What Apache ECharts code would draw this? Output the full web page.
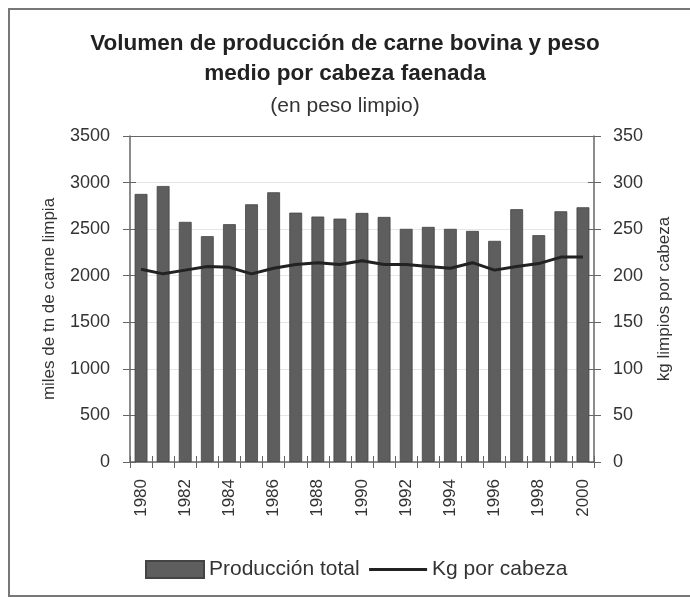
<!DOCTYPE html>
<html><head><meta charset="utf-8">
<script src="https://cdn.jsdelivr.net/npm/echarts@6/dist/echarts.min.js"></script>
<style>html,body{margin:0;padding:0;background:#fff}#c{width:690px;height:598px}</style>
</head><body><div id="c"></div>
<script>
const years = ['1980','1981','1982','1983','1984','1985','1986','1987','1988','1989','1990','1991','1992','1993','1994','1995','1996','1997','1998','1999','2000'];
const produccion = [2878,2963,2578,2424,2553,2767,2896,2677,2635,2613,2674,2631,2503,2524,2503,2481,2374,2714,2435,2692,2735];
const kgCabeza = [207,202,206,210,209,202,208,212,214,212,216,212,212,210,208,214,206,210,213,220,220];
const leftTicks = {min:0, max:3500, interval:500};
const rightTicks = {min:0, max:350, interval:50};

const FONT = '"Liberation Sans", Arial, sans-serif';
const txt = '#333';
const axisCol = '#666';
const plain = v => String(v);
const clear = 'rgba(0,0,0,0)';
const chart = echarts.init(document.getElementById('c'), null, {renderer:'canvas'});
chart.setOption({
  animation:false,
  textStyle:{fontFamily:FONT},
  title:[
    {text:'Volumen de producción de carne bovina y peso\nmedio por cabeza faenada', left:'center', top:24,
     padding:[5,0,5,22],
     textStyle:{fontFamily:FONT, fontSize:22.5, fontWeight:'bold', color:'#222', lineHeight:30}},
    {text:'(en peso limpio)', left:'center', top:90, padding:[5,0,5,22],
     textStyle:{fontFamily:FONT, fontSize:21, fontWeight:'normal', color:'#333', lineHeight:22}}
  ],
  graphic:[{type:'polyline', shape:{points:[[700,9],[9,9],[9,596],[700,596]]}, style:{stroke:'#777', lineWidth:2, fill:null}, silent:true}],
  legend:{left:140, top:554, itemWidth:58, itemHeight:17, itemGap:8,
    textStyle:{fontFamily:FONT, fontSize:21, color:'#333'},
    data:[{name:'Producción total', icon:'rect'},
          {name:'Kg por cabeza', itemStyle:{color:clear, borderColor:clear, borderWidth:0},
           lineStyle:{color:'#222', width:3}}]},
  grid:{left:130, right:96, top:136, bottom:136, containLabel:false},
  xAxis:[
    {type:'category', data:years, position:'bottom',
     axisLine:{lineStyle:{color:axisCol, width:1.5}},
     axisTick:{show:true, interval:0, length:6, lineStyle:{color:axisCol}},
     axisLabel:{interval:1, rotate:90, fontSize:17, color:txt, margin:17, fontFamily:FONT},
     splitLine:{show:false}},
    {type:'category', data:years, position:'bottom', gridIndex:0,
     axisLine:{show:false},
     axisTick:{show:true, inside:true, interval:0, length:6, lineStyle:{color:axisCol}},
     axisLabel:{show:false}, splitLine:{show:false}}
  ],
  yAxis:[
    {type:'value', position:'left', ...leftTicks,
     name:'miles de tn de carne limpia', nameLocation:'middle', nameRotate:90, nameGap:72,
     nameTextStyle:{fontSize:17, color:txt, fontFamily:FONT},
     axisLine:{show:true, lineStyle:{color:axisCol, width:1.5}},
     axisTick:{show:true, length:7, lineStyle:{color:axisCol}},
     axisLabel:{fontSize:18, color:txt, margin:20, fontFamily:FONT, formatter:plain},
     splitLine:{show:true, lineStyle:{color:'#e6e6e6'}}},
    {type:'value', position:'right', ...rightTicks,
     name:'kg limpios por cabeza', nameLocation:'middle', nameRotate:90, nameGap:62,
     nameTextStyle:{fontSize:17, color:txt, fontFamily:FONT},
     axisLine:{show:true, lineStyle:{color:axisCol, width:1.5}},
     axisTick:{show:true, length:7, lineStyle:{color:axisCol}},
     axisLabel:{fontSize:18, color:txt, margin:19, fontFamily:FONT, formatter:plain},
     splitLine:{show:false}},
    {type:'value', position:'left', ...leftTicks,
     axisLine:{show:false}, axisTick:{show:true, inside:true, length:6, lineStyle:{color:axisCol}},
     axisLabel:{show:false}, splitLine:{show:false}},
    {type:'value', position:'right', ...rightTicks,
     axisLine:{show:false}, axisTick:{show:true, inside:true, length:6, lineStyle:{color:axisCol}},
     axisLabel:{show:false}, splitLine:{show:false}}
  ],
  series:[
    {name:'Producción total', type:'bar', xAxisIndex:0, yAxisIndex:0, data:produccion,
     barCategoryGap:'42%', itemStyle:{color:'#5e5e5e', borderColor:'#444', borderWidth:0.8},
     markLine:{silent:true, symbol:'none', label:{show:false},
       lineStyle:{color:axisCol, type:'solid', width:1.2}, data:[{yAxis:3500}]}},
    {name:'Kg por cabeza', type:'line', xAxisIndex:0, yAxisIndex:1, data:kgCabeza,
     symbol:'none', lineStyle:{color:'#222', width:3}, itemStyle:{color:'#222'}}
  ]
});
</script></body></html>
